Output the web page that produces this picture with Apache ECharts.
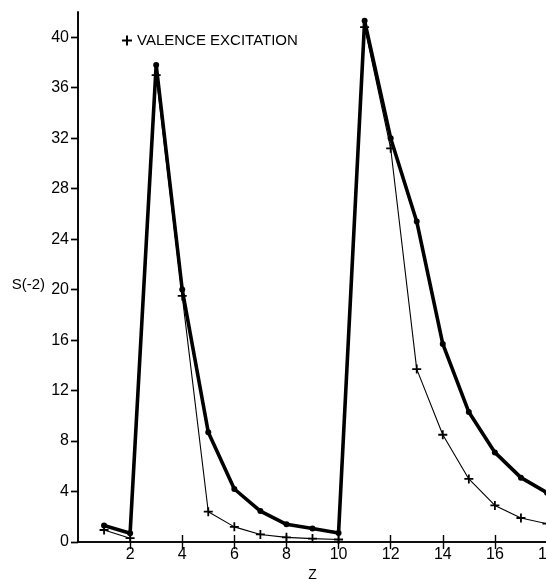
<!DOCTYPE html>
<html>
<head>
<meta charset="utf-8">
<script src="https://cdn.jsdelivr.net/npm/echarts@6/dist/echarts.min.js"></script>
<style>
  html, body { margin: 0; padding: 0; background: #fff; }
  #chart { width: 546px; height: 579px; }
</style>
</head>
<body>
<div id="chart"></div>
<script>
// atomic number Z
const zValues = [1, 2, 3, 4, 5, 6, 7, 8, 9, 10, 11, 12, 13, 14, 15, 16, 17, 18];
// total S(-2), heavy line with dots
const totalS = [1.3, 0.7, 37.8, 20.0, 8.7, 4.2, 2.45, 1.4, 1.07, 0.72, 41.3, 32.0, 25.4, 15.7, 10.3, 7.1, 5.1, 3.9];
// valence excitation contribution, thin line with crosses
const valenceS = [0.95, 0.3, 37.0, 19.5, 2.4, 1.2, 0.6, 0.37, 0.27, 0.2, 40.8, 31.2, 13.7, 8.5, 5.0, 2.9, 1.9, 1.45];
const xTicks = [2, 4, 6, 8, 10, 12, 14, 16, 18];
const yTicks = [0, 4, 8, 12, 16, 20, 24, 28, 32, 36, 40];

const plusPath = 'path://M4,0 H6 V4 H10 V6 H6 V10 H4 V6 H0 V4 H4 Z';
const font = 'Liberation Sans';

const myChart = echarts.init(document.getElementById('chart'));

const toPairs = (ys) => zValues.map((z, i) => [z, ys[i]]);

const option = {
  animation: false,
  backgroundColor: '#fff',
  grid: { left: 78, right: -1, top: 12, bottom: 37, outerBoundsMode: 'none' },
  legend: {
    data: ['VALENCE EXCITATION'],
    left: 117,
    top: 28,
    icon: plusPath,
    itemWidth: 10,
    itemHeight: 10,
    itemGap: 9,
    textStyle: { fontFamily: font, fontSize: 15, color: '#000' }
  },
  xAxis: [
    {
      type: 'value',
      min: 0,
      max: 18,
      interval: 2,
      name: 'Z',
      nameLocation: 'middle',
      nameGap: 24,
      nameTextStyle: { fontFamily: font, fontSize: 14, color: '#000' },
      axisLine: { lineStyle: { color: '#000', width: 1.6 } },
      axisTick: { inside: true, length: 7, customValues: xTicks, lineStyle: { color: '#000', width: 1.4 } },
      axisLabel: { customValues: xTicks, fontFamily: font, fontSize: 16, color: '#000', margin: 5 },
      splitLine: { show: false }
    },
    {
      type: 'value',
      position: 'top',
      min: 0,
      max: 18,
      interval: 2,
      axisLine: { lineStyle: { color: '#000', width: 1.6 } },
      axisTick: { inside: true, length: 7, customValues: xTicks, lineStyle: { color: '#000', width: 1.4 } },
      axisLabel: { show: false },
      splitLine: { show: false }
    }
  ],
  yAxis: [
    {
      type: 'value',
      min: 0,
      max: 42,
      interval: 4,
      name: 'S(-2)',
      nameLocation: 'middle',
      nameRotate: 0,
      nameGap: 33,
      nameTextStyle: { fontFamily: font, fontSize: 15, color: '#000', verticalAlign: 'top' },
      axisLine: { lineStyle: { color: '#000', width: 1.6 } },
      axisTick: { length: 7, customValues: yTicks, lineStyle: { color: '#000', width: 1.4 } },
      axisLabel: { customValues: yTicks, fontFamily: font, fontSize: 16, color: '#000', margin: 9 },
      splitLine: { show: false }
    },
    {
      type: 'value',
      position: 'right',
      min: 0,
      max: 42,
      interval: 4,
      axisLine: { lineStyle: { color: '#000', width: 1.6 } },
      axisTick: { inside: true, length: 7, customValues: yTicks, lineStyle: { color: '#000', width: 1.4 } },
      axisLabel: { show: false },
      splitLine: { show: false }
    }
  ],
  series: [
    {
      name: 'VALENCE EXCITATION',
      type: 'line',
      data: toPairs(valenceS),
      symbol: plusPath,
      symbolSize: 9,
      itemStyle: { color: '#000' },
      lineStyle: { color: '#000', width: 1.1 },
      z: 3
    },
    {
      name: 'TOTAL',
      type: 'line',
      data: toPairs(totalS),
      symbol: 'circle',
      symbolSize: 6,
      itemStyle: { color: '#000' },
      lineStyle: { color: '#000', width: 3.6 },
      z: 2
    }
  ]
};

myChart.setOption(option);
window.addEventListener('resize', function () {
  myChart.resize();
});
</script>
</body>
</html>
